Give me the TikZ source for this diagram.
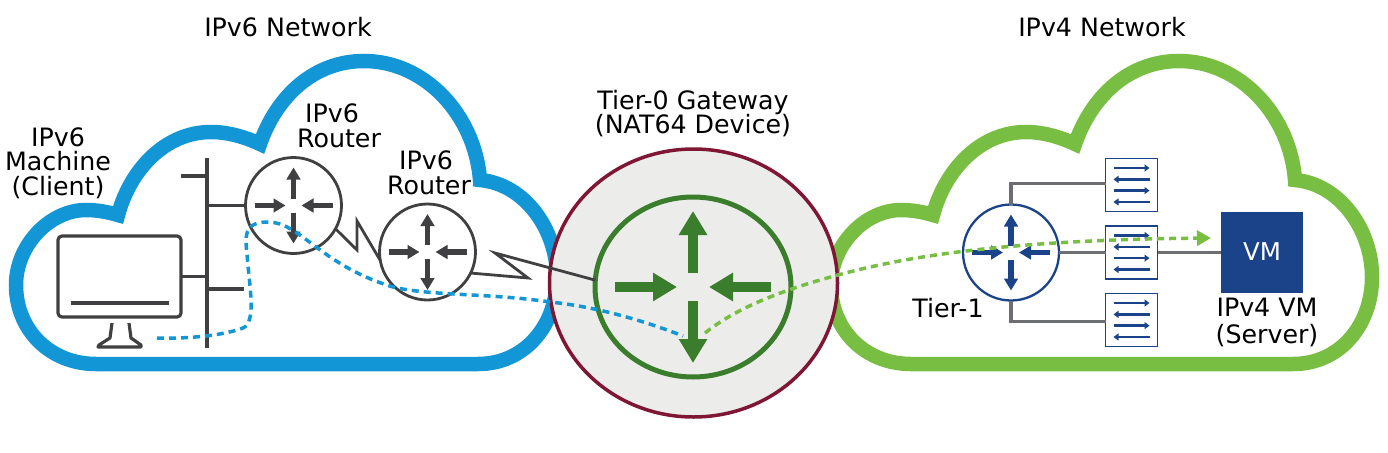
\documentclass[tikz,border=0pt]{standalone}
\usepackage{fontspec}
\setmainfont{DejaVu Sans}
\usetikzlibrary{arrows.meta,shapes.geometric}
\definecolor{cloudBlue}{RGB}{18, 150, 213}
\definecolor{cloudGreen}{RGB}{120, 190, 67}
\definecolor{iconGray}{RGB}{64, 64, 66}
\definecolor{linkGray}{RGB}{109, 110, 113}
\definecolor{tierBlue}{RGB}{27, 67, 137}
\definecolor{gateGreen}{RGB}{58, 125, 44}
\definecolor{gateRed}{RGB}{127, 23, 52}
\definecolor{gateFill}{RGB}{236, 236, 234}
\newcommand{\cloudoutline}{(96,364) .. controls (50,364) and (16,330) .. (16,285)
    .. controls (16,245) and (50,210) .. (86,210)
    .. controls (97,210) and (108,212) .. (118,215)
    .. controls (130,170) and (165,132) .. (211,132)
    .. controls (228,132) and (245,137) .. (260,144)
    .. controls (277,95) and (315,61) .. (364,61)
    .. controls (425,61) and (475,115) .. (480,180)
    .. controls (525,184) and (557,230) .. (557,277)
    .. controls (557,325) and (525,364) .. (478,364) -- cycle}
\tikzset{
    pics/routerarrows/.style 2 args={code={
        \foreach \ang in {90,270}
            \draw[color=#2, line width=#1*5.3pt, -{Triangle[scale=#1, length=12pt, width=13.5pt]}] (\ang:#1*7) -- (\ang:#1*38);
        \foreach \ang in {0,180}
            \draw[color=#2, line width=#1*5.3pt, -{Triangle[scale=#1, length=12pt, width=13.5pt]}] (\ang:#1*39) -- (\ang:#1*8);
    }},
    pics/switcharrows/.style={code={
        \foreach \rowy in {-17,5.6}
            \draw[color=tierBlue, line width=2.4pt, -{Triangle[length=5pt, width=7pt]}] (-18,\rowy) -- (18,\rowy);
        \foreach \rowy in {-5.6,17}
            \draw[color=tierBlue, line width=2.4pt, -{Triangle[length=5pt, width=7pt]}] (18,\rowy) -- (-18,\rowy);
    }}
}
\begin{document}
\begin{tikzpicture}[x=1pt, y=-1pt, node distance=67.5pt,
        lbl/.style={align=center, inner sep=0pt, font=\fontsize{25.3}{24.6}\selectfont},
        cloudline/.style={line width=14.5pt, line join=miter},
        router/.style={draw=iconGray, circle, fill=white, line width=2.8pt, minimum size=96pt, inner sep=0pt, outer sep=0pt},
        switchbox/.style={draw=tierBlue, fill=white, line width=1.6pt, minimum width=52pt, minimum height=53pt, inner sep=0pt, outer sep=0pt},
        wire/.style={color=iconGray, line width=3.2pt},
        trunk/.style={color=linkGray, line width=3.2pt},
        flow/.style={line width=3.5pt, dash pattern=on 7pt off 5pt}]
    \useasboundingbox (0,0) rectangle (1388,452);
    \draw[cloudline, color=cloudBlue] \cloudoutline;
    \draw[cloudline, color=cloudGreen, shift={(815,0)}] \cloudoutline;

    \node[lbl] (v6title) at (288,27) {IPv6 Network};
    \node[lbl] (v4title) at (1102,27) {IPv4 Network};
    \node[lbl] (machinelbl) at (58,163) {IPv6\\Machine\\(Client)};
    \node[lbl] (routeralbl) at (339,125.5) {IPv6\hspace*{14pt}\\Router};
    \node[lbl] (routerblbl) at (429,172.5) {IPv6\hspace*{6pt}\\Router};
    \node[lbl] (gatelbl) at (693,113.5) {Tier-0 Gateway\\(NAT64 Device)};
    \node[lbl] (tieronelbl) at (948,308) {Tier-1};
    \node[lbl, font=\fontsize{25.3}{27}\selectfont] (serverlbl) at (1267,322) {IPv4 VM\\(Server)};

    \node[draw=gateRed, fill=gateFill, ellipse, line width=3.5pt, minimum width=288pt, minimum height=268pt, inner sep=0pt, outer sep=0pt] (gateway) at (693.5,283) {};
    \node[draw=gateGreen, ellipse, line width=5pt, minimum width=196pt, minimum height=180pt, inner sep=0pt, outer sep=0pt] (gatecore) at (693,287) {};
    \pic at (693,287) {routerarrows={2}{gateGreen}};

    \node[draw=iconGray, rounded corners=4pt, line width=3.2pt, minimum width=123pt, minimum height=81pt, inner sep=0pt, outer sep=0pt] (monitor) at (119.5,276.5) {};
    \draw[wire] (71,303) -- (169,303);
    \draw[wire, fill=white, line join=round] (112,323) -- (110,338) -- (99,345) -- (98,347) -- (141,347) -- (141,345) -- (131,338) -- (129,323);

    \coordinate (bustop) at (207,158);
    \coordinate (busend) at (207,348);
    \coordinate (busstub) at (181,176);
    \coordinate (busspare) at (244,289);
    \node[router] (routera) at (293.5,205.5) {};
    \node[router] (routerb) at (427.5,252) {};
    \pic at (293.5,205.5) {routerarrows={1}{iconGray}};
    \pic at (427.5,252) {routerarrows={1}{iconGray}};
    \draw[wire] (bustop) -- (busend);
    \draw[wire] (busstub) -- (busstub -| bustop);
    \draw[wire] (monitor.east) -- (monitor.east -| bustop);
    \draw[wire] (routera.west) -- (routera.west -| bustop);
    \draw[wire] (busspare) -- (busspare -| bustop);
    \coordinate (zigaone) at (357,250);
    \coordinate (zigatwo) at (357,221);
    \coordinate (zigbone) at (528,278);
    \coordinate (zigbtwo) at (495,253);
    \draw[wire, line width=2.8pt, line join=miter] (routera.-29) -- (zigaone) -- (zigatwo) -- (routerb.190);
    \draw[wire, line width=2.8pt, line join=miter] (routerb.-26) -- (zigbone) -- (zigbtwo) -- (gatecore.176);

    \node[draw=tierBlue, circle, fill=white, line width=2.3pt, minimum size=96pt, inner sep=0pt, outer sep=0pt] (tierone) at (1011,252.5) {};
    \pic at (1011,252.5) {routerarrows={1}{tierBlue}};
    \node[switchbox] (swa) at (1131.5,185) {};
    \node[switchbox, below of=swa] (swb) {};
    \node[switchbox, below of=swb] (swc) {};
    \pic at (swa.center) {switcharrows};
    \pic at (swb.center) {switcharrows};
    \pic at (swc.center) {switcharrows};
    \node[fill=tierBlue, text=white, minimum width=82pt, minimum height=81pt, inner sep=0pt, outer sep=0pt, font=\fontsize{24.5}{25}\selectfont] (vmbox) at (1262,252.5) {\raisebox{2pt}{VM}};
    \draw[trunk] (tierone.north) |- ([yshift=1.5pt]swa.west);
    \draw[trunk] (tierone.south) |- ([yshift=-1.5pt]swc.west);
    \draw[trunk] (tierone.east) -- (swb.west);
    \draw[trunk] (swb.east) -- (vmbox.west);

    \coordinate (flowstart) at (157,338);
    \coordinate (flowmid) at (683,336);
    \coordinate (flowturn) at (705,333);
    \coordinate (flowend) at (1211,238);
    \draw[flow, color=cloudBlue] (flowstart) .. controls (190,339) and (225,335) .. (243,328)
        .. controls (256,322) and (250,290) .. (248,265)
        .. controls (246,240) and (240,222) .. (268,222)
        .. controls (300,222) and (320,265) .. (393,287)
        .. controls (430,296) and (490,293) .. (550,302)
        .. controls (600,307) and (650,323) .. (flowmid);
    \draw[flow, color=cloudGreen, -{Triangle[length=14pt, width=15pt]}] (flowturn) .. controls (740,305) and (790,288) .. (838,275)
        .. controls (900,258) and (1000,240) .. (flowend);
\end{tikzpicture}
\end{document}
